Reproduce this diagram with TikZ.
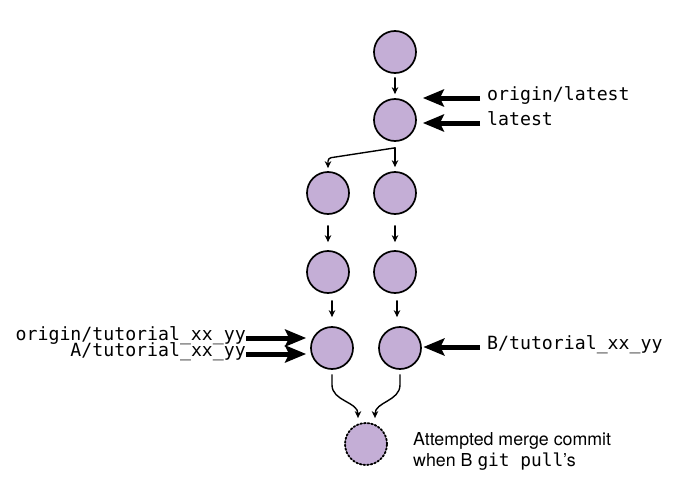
\documentclass[tikz,border=0pt]{standalone}
\usepackage{fontspec}
\setmainfont{TeX Gyre Heros}
\setmonofont{DejaVu Sans Mono}
\usetikzlibrary{arrows.meta}
\definecolor{commitfill}{RGB}{196,174,214}

\begin{document}
\begin{tikzpicture}[x=1pt,y=-1pt,line cap=round,line join=round,
    commit/.style={circle,draw=black,line width=1.7pt,fill=commitfill,minimum size=42pt,inner sep=0pt},
    merge/.style={commit,dotted,line width=1.8pt},
    link/.style={-{Stealth[length=7pt,width=6.5pt]},line width=1.4pt},
    ref/.style={-{Stealth[length=21pt,width=17pt,inset=4pt]},line width=5pt,line cap=butt},
    reflabel/.style={font=\fontsize{18.2}{18}\selectfont\ttfamily,inner sep=0pt,text height=0.75em,text depth=0.25em}]
        \useasboundingbox (0,0) rectangle (681,498);
        % commits
        \node[commit] (c1) at (395,52) {};
        \node[commit] (c2) at (395,120) {};
        \node[commit] (a1) at (328,193) {};
        \node[commit] (b1) at (395,193) {};
        \node[commit] (a2) at (328,272) {};
        \node[commit] (b2) at (395,272) {};
        \node[commit] (a3) at (332,348) {};
        \node[commit] (b3) at (400,348) {};
        \node[merge] (m) at (366,444) {};
        % history
        \draw[link] ([yshift=-4pt]c1.south) -- ([yshift=4pt]c2.north);
        \draw[link] ([yshift=-6pt]c2.south) -- ([yshift=4pt]b1.north);
        \draw[link,rounded corners=3pt] ([yshift=-6pt]c2.south) -- ([yshift=13pt]a1.north) -- ([yshift=3pt]a1.north);
        \draw[link] ([yshift=-11pt]a1.south) -- ([yshift=8pt]a2.north);
        \draw[link] ([yshift=-11pt]b1.south) -- ([yshift=8pt]b2.north);
        \draw[link] (a3.north |- a2.south) ++(0,7) -- ([yshift=9pt]a3.north);
        \draw[link] ([xshift=-3pt]b3.north |- b2.south) ++(0,7) -- ([xshift=-3pt,yshift=9pt]b3.north);
        \draw[link] ([yshift=-5pt]a3.south) -- ++(0,10) to[out=-90,in=90] ([xshift=-8pt,yshift=4pt]m.north);
        \draw[link] ([yshift=-5pt]b3.south) -- ++(0,10) to[out=-90,in=90] ([xshift=9pt,yshift=4pt]m.north);
        % branch labels
        \node[reflabel,anchor=west] (olatest) at (487,98) {origin/latest};
        \node[reflabel,anchor=west] (latest) at (487,123) {latest};
        \draw[ref,shorten >=6pt] ([xshift=-7pt]olatest.west) -- (olatest.west -| c2.east);
        \draw[ref,shorten >=6pt] ([xshift=-7pt]latest.west) -- (latest.west -| c2.east);
        \node[reflabel,anchor=east] (otut) at (246,338) {origin/tutorial\_xx\_yy};
        \node[reflabel,anchor=east] (atut) at (246,354) {A/tutorial\_xx\_yy};
        \draw[ref,shorten >=4pt] (otut.east) -- (otut.east -| a3.west);
        \draw[ref,shorten >=4pt] (atut.east) -- (atut.east -| a3.west);
        \node[reflabel,anchor=west] (btut) at (487,347) {B/tutorial\_xx\_yy};
        \draw[ref,shorten >=1.5pt] ([xshift=-7pt]btut.west) -- (btut.west -| b3.east);
        % note
        \node[anchor=west,align=left,inner sep=0pt,font=\fontsize{17.8}{21}\selectfont] (note) at (413,451) {Attempted merge commit\\when B {\ttfamily git pull}’s};
\end{tikzpicture}
\end{document}
